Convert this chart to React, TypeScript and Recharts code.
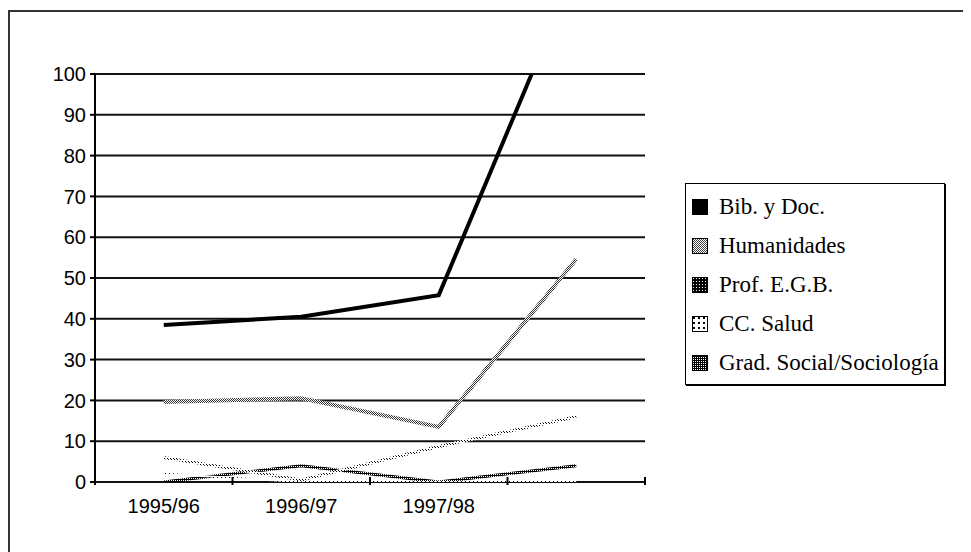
import React from 'react';
import { LineChart, Line, XAxis, YAxis, CartesianGrid } from 'recharts';

const categories = ['1995/96', '1996/97', '1997/98', ''];
const bibDoc = [38.5, 40.5, 45.8, 126];
const humanidades = [19.6, 20.5, 13.5, 54.6];
const profEGB = [6, 0.5, 8.7, 16];
const ccSalud = [2, 0, 0, 0];
const gradSocial = [0, 4, 0, 4];
const yTicks = [0, 10, 20, 30, 40, 50, 60, 70, 80, 90, 100];

const series = [
  { key: 'bib', name: 'Bib. y Doc.', values: bibDoc, stroke: '#000', width: 4, swatch: 'sw-bib' },
  { key: 'hum', name: 'Humanidades', values: humanidades, stroke: 'url(#pat-hum)', width: 4, swatch: 'sw-hum' },
  { key: 'prof', name: 'Prof. E.G.B.', values: profEGB, stroke: 'url(#pat-prof)', width: 3, swatch: 'sw-prof' },
  { key: 'salud', name: 'CC. Salud', values: ccSalud, stroke: 'url(#pat-salud)', width: 2, swatch: 'sw-salud' },
  { key: 'grad', name: 'Grad. Social/Sociología', values: gradSocial, stroke: 'url(#pat-grad)', width: 3, swatch: 'sw-grad' },
];

const data = categories.map((cat, i) => {
  const row: Record<string, any> = { pos: i + 0.5, cat };
  series.forEach((s) => {
    row[s.key] = s.values[i];
  });
  return row;
});

const xTicks: number[] = [];
for (let i = 0; i <= categories.length; i++) {
  xTicks.push(i);
  if (i < categories.length) xTicks.push(i + 0.5);
}

const SANS = '"Liberation Sans", Arial, sans-serif';
const SERIF = '"Liberation Serif", "Times New Roman", serif';

const XTick = (props: any) => {
  const { x, y, payload } = props;
  const v = payload.value as number;
  if (Number.isInteger(v)) {
    return <line x1={x} x2={x} y1={y - 5} y2={y + 3} stroke="#000" strokeWidth={2} />;
  }
  const idx = Math.floor(v);
  return (
    <text x={x} y={y + 24} textAnchor="middle" dominantBaseline="central" fontFamily={SANS} fontSize={20} fill="#000">
      {categories[idx]}
    </text>
  );
};

const Swatch = ({ kind }: { kind: string }) => {
  const id = kind;
  let pattern: React.ReactNode = null;
  let fill = '#000';
  if (kind === 'sw-hum') {
    pattern = (
      <pattern id={id} width={2} height={2} patternUnits="userSpaceOnUse">
        <rect width={2} height={2} fill="#fff" />
        <rect x={0} y={0} width={1} height={1} fill="#444" />
        <rect x={1} y={1} width={1} height={1} fill="#444" />
      </pattern>
    );
    fill = `url(#${id})`;
  } else if (kind === 'sw-prof') {
    pattern = (
      <pattern id={id} width={3} height={3} patternUnits="userSpaceOnUse">
        <rect width={3} height={3} fill="#000" />
        <rect x={1} y={1} width={1} height={1} fill="#fff" />
      </pattern>
    );
    fill = `url(#${id})`;
  } else if (kind === 'sw-salud') {
    pattern = (
      <pattern id={id} width={5} height={5} patternUnits="userSpaceOnUse">
        <rect width={5} height={5} fill="#fff" />
        <rect x={1} y={1} width={2} height={2} fill="#000" />
      </pattern>
    );
    fill = `url(#${id})`;
  } else if (kind === 'sw-grad') {
    pattern = (
      <pattern id={id} width={2} height={2} patternUnits="userSpaceOnUse">
        <rect width={2} height={2} fill="#000" />
        <rect x={1} y={0} width={1} height={1} fill="#fff" />
      </pattern>
    );
    fill = `url(#${id})`;
  }
  return (
    <svg width={16} height={16} style={{ display: 'block' }}>
      <defs>{pattern}</defs>
      <rect x={0.5} y={0.5} width={15} height={15} fill={fill} stroke="#000" strokeWidth={1} />
    </svg>
  );
};

export default function App() {
  return (
    <div style={{ position: 'relative', width: 963, height: 544, fontFamily: SANS }}>
      <div
        style={{
          position: 'absolute',
          left: 0,
          top: 2,
          width: 963,
          height: 542,
          borderTop: '2px solid #333',
          borderLeft: '2px solid #333',
          boxSizing: 'border-box',
        }}
      />
      <div style={{ position: 'absolute', left: 0, top: 0 }}>
        <LineChart width={963} height={544} data={data} margin={{ top: 66, right: 326, bottom: 30, left: 57 }}>
          <defs>
            <pattern id="pat-hum" width={2} height={2} patternUnits="userSpaceOnUse">
              <rect width={2} height={2} fill="#fff" />
              <rect x={0} y={0} width={1} height={1} fill="#333" />
              <rect x={1} y={1} width={1} height={1} fill="#333" />
            </pattern>
            <pattern id="pat-prof" width={3} height={3} patternUnits="userSpaceOnUse">
              <rect width={3} height={3} fill="#fff" />
              <rect x={0} y={0} width={1} height={1} fill="#000" />
              <rect x={1} y={1} width={1} height={1} fill="#000" />
            </pattern>
            <pattern id="pat-salud" width={4} height={4} patternUnits="userSpaceOnUse">
              <rect width={4} height={4} fill="#fff" />
              <rect x={1} y={1} width={1} height={1} fill="#000" />
            </pattern>
            <pattern id="pat-grad" width={2} height={2} patternUnits="userSpaceOnUse">
              <rect width={2} height={2} fill="#000" />
              <rect x={1} y={0} width={1} height={1} fill="#fff" />
            </pattern>
          </defs>
          <CartesianGrid vertical={false} stroke="#111" strokeWidth={2} horizontalValues={yTicks} />
          <XAxis
            type="number"
            dataKey="pos"
            domain={[0, categories.length]}
            ticks={xTicks}
            interval={0}
            tick={<XTick />}
            tickLine={false}
            axisLine={false}
            tickSize={0}
            tickMargin={0}
            height={40}
          />
          <YAxis
            type="number"
            domain={[0, 100]}
            ticks={yTicks}
            interval={0}
            allowDataOverflow
            width={30}
            tickSize={5}
            tickMargin={4}
            tick={{ fontFamily: SANS, fontSize: 20, fill: '#000' }}
            tickLine={{ stroke: '#000', strokeWidth: 2 }}
            axisLine={{ stroke: '#000', strokeWidth: 2 }}
          />
          {[...series].reverse().map((s) => (
            <Line
              key={s.key}
              dataKey={s.key}
              name={s.name}
              type="linear"
              stroke={s.stroke}
              strokeWidth={s.width}
              dot={false}
              activeDot={false}
              isAnimationActive={false}
            />
          ))}
        </LineChart>
      </div>
      <div
        style={{
          position: 'absolute',
          left: 677,
          top: 175,
          width: 260,
          height: 202,
          border: '1px solid #000',
          boxShadow: '1px 1px 0 #000',
          background: '#fff',
          boxSizing: 'border-box',
          paddingTop: 3,
          paddingLeft: 6,
          fontFamily: SERIF,
          fontSize: 23,
          color: '#000',
        }}
      >
        {series.map((s) => (
          <div key={s.key} style={{ display: 'flex', alignItems: 'center', height: 39, whiteSpace: 'nowrap' }}>
            <Swatch kind={s.swatch} />
            <span style={{ marginLeft: 11, lineHeight: '39px' }}>{s.name}</span>
          </div>
        ))}
      </div>
    </div>
  );
}
